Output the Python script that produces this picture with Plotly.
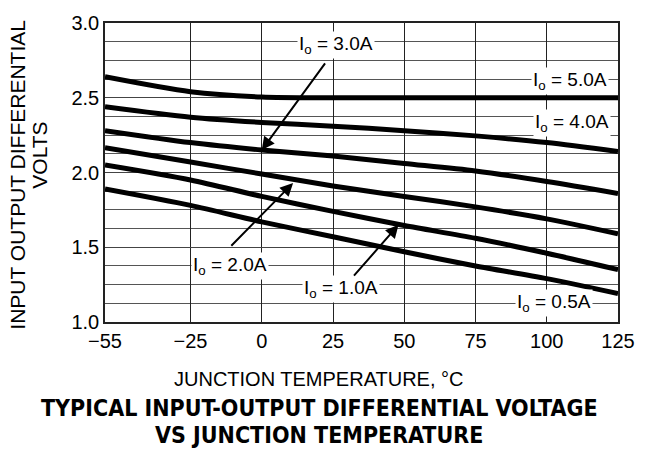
import plotly.graph_objects as go

# Junction temperature (°C) sample points
temp_c = [-55, -25, 0, 25, 50, 75, 100, 125]

# Typical input-output differential voltage (V) for each output current
v_5a0 = [2.64, 2.54, 2.505, 2.50, 2.50, 2.50, 2.50, 2.50]
v_4a0 = [2.44, 2.37, 2.335, 2.31, 2.28, 2.245, 2.20, 2.14]
v_3a0 = [2.28, 2.20, 2.15, 2.11, 2.06, 2.01, 1.94, 1.86]
v_2a0 = [2.165, 2.07, 1.99, 1.91, 1.84, 1.77, 1.69, 1.59]
v_1a0 = [2.05, 1.95, 1.84, 1.74, 1.645, 1.56, 1.46, 1.35]
v_0a5 = [1.89, 1.78, 1.67, 1.57, 1.47, 1.375, 1.29, 1.19]

series = [("5.0A", v_5a0), ("4.0A", v_4a0), ("3.0A", v_3a0),
          ("2.0A", v_2a0), ("1.0A", v_1a0), ("0.5A", v_0a5)]

x_ticks = [-55, -25, 0, 25, 50, 75, 100, 125]
x_ticktext = ["−55", "−25", "0", "25", "50", "75", "100", "125"]
y_ticks = [1.0, 1.5, 2.0, 2.5, 3.0]
y_ticktext = ["1.0", "1.5", "2.0", "2.5", "3.0"]

FONT = "Liberation Sans, Arial, Helvetica, sans-serif"
NARROW = "Liberation Sans Narrow, DejaVu Sans Condensed, Liberation Sans, Arial, sans-serif"

fig = go.Figure()
for name, vals in series:
    fig.add_trace(go.Scatter(
        x=temp_c, y=vals, mode="lines", name=name,
        line=dict(color="black", width=5, shape="spline", smoothing=0.8),
        showlegend=False, hoverinfo="skip",
    ))

# Curve labels: (text, x, y)
labels = [
    ("I<sub>o</sub> = 3.0A", 26.0, 2.85),
    ("I<sub>o</sub> = 5.0A", 108.0, 2.615),
    ("I<sub>o</sub> = 4.0A", 109.0, 2.33),
    ("I<sub>o</sub> = 2.0A", -11.2, 1.375),
    ("I<sub>o</sub> = 1.0A", 27.8, 1.22),
    ("I<sub>o</sub> = 0.5A", 102.6, 1.125),
]
for txt, lx, ly in labels:
    fig.add_annotation(x=lx, y=ly, xref="x", yref="y", text=txt,
                       xanchor="center", yanchor="middle",
                       showarrow=False, bgcolor="white", borderpad=1,
                       font=dict(family=FONT, size=19, color="black"))

# Leader arrows: (head x, head y, tail x, tail y)
arrows = [
    (0.0, 2.15, 22.6, 2.74),
    (11.0, 1.93, -11.2, 1.50),
    (48.0, 1.65, 31.9, 1.30),
]
for hx, hy, tx, ty in arrows:
    fig.add_annotation(x=hx, y=hy, ax=tx, ay=ty, xref="x", yref="y",
                       axref="x", ayref="y", text="", showarrow=True,
                       arrowhead=2, arrowsize=1.3, arrowwidth=2,
                       arrowcolor="black")

# Axis titles and caption
def paper_text(txt, x, y, size, family=FONT, angle=0):
    fig.add_annotation(x=x, y=y, xref="paper", yref="paper", text=txt,
                       textangle=angle, xanchor="center", yanchor="middle",
                       showarrow=False,
                       font=dict(family=family, size=size, color="black"))

paper_text("INPUT OUTPUT DIFFERENTIAL", -0.1695, 0.493, 21, angle=-90)
paper_text("VOLTS", -0.127, 0.559, 21, angle=-90)
paper_text("JUNCTION TEMPERATURE, °C", 0.418, -0.191, 20)
paper_text("<b>TYPICAL INPUT-OUTPUT DIFFERENTIAL VOLTAGE</b>", 0.418, -0.289, 23, NARROW)
paper_text("<b>VS JUNCTION TEMPERATURE</b>", 0.418, -0.378, 23, NARROW)

fig.update_xaxes(
    range=[-55, 125], tickvals=x_ticks, ticktext=x_ticktext,
    showgrid=True, gridcolor="#222", gridwidth=1,
    showline=True, linecolor="#222", linewidth=1.5, mirror=True,
    ticks="", zeroline=False,
    tickfont=dict(family=FONT, size=20, color="black"),
)
fig.update_yaxes(
    range=[1.0, 3.0], tickvals=y_ticks, ticktext=y_ticktext,
    showgrid=True, gridcolor="#444", gridwidth=1,
    minor=dict(dtick=0.125, tick0=1.0, showgrid=True, gridcolor="#555", gridwidth=1),
    showline=True, linecolor="#222", linewidth=1.5, mirror=True,
    ticks="", zeroline=False,
    tickfont=dict(family=FONT, size=20, color="black"),
)

fig.update_layout(
    width=647, height=456,
    margin=dict(l=105, r=20, t=18, b=134),
    paper_bgcolor="white", plot_bgcolor="white",
)

fig.write_html("out.html")
